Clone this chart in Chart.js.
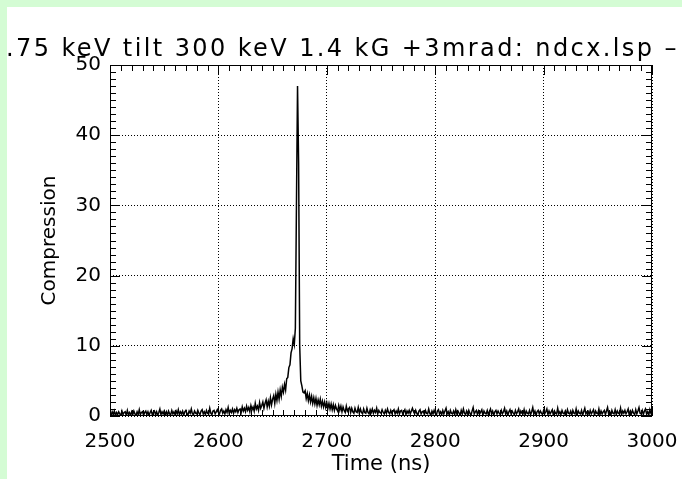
<!DOCTYPE html>
<html>
<head>
<meta charset="utf-8">
<script src="https://cdn.jsdelivr.net/npm/chart.js@4/dist/chart.umd.min.js"></script>
<style>
  html, body { margin: 0; padding: 0; background: #d4fcd4; overflow: hidden; }
  #page { position: absolute; left: 7px; top: 7px; width: 675px; height: 472px; background: #fff; }
  canvas { display: block; }
</style>
</head>
<body>
<div id="page"><canvas id="plot" width="675" height="472"></canvas></div>
<script>
// run label and axis text
const titleText = ".75 keV tilt 300 keV 1.4 kG +3mrad: ndcx.lsp \u2013";
const xTitle = "Time (ns)";
const yTitle = "Compression";

// sampling of the trace: one point per ns starting at 2500 ns
const timeStart = 2500;
const timeStep = 1;

// compression vs time, 2500..3000 ns
const compression = [
  0.5,0.1,0.6,0.2,0.7,0.1,0.5,0.2,0.6,0.3,0.1,0.7,0.2,0.5,0.6,0.1,0.8,0.2,0.5,0.1,
  0.6,0.2,0.7,0.3,0.1,0.6,0.2,0.9,0.2,0.5,0.6,0.1,0.5,0.7,0.2,0.6,0.1,0.5,0.8,0.2,
  0.5,0.7,0.2,0.6,0.1,0.5,1.0,0.2,0.6,0.3,0.7,0.2,0.6,0.1,0.7,0.3,0.2,0.8,0.3,0.6,
  0.2,0.7,0.3,0.9,0.2,0.6,0.3,0.7,0.1,0.6,0.8,0.3,0.2,0.7,0.4,1.0,0.3,0.2,0.7,0.4,
  0.3,0.8,0.4,0.2,0.7,0.9,0.3,0.6,0.2,0.8,0.4,0.3,1.1,0.4,0.2,0.7,0.8,0.3,0.6,0.9,
  0.5,0.3,0.8,1.0,0.4,0.7,0.3,0.9,0.5,1.2,0.4,0.8,0.5,1.0,0.4,0.9,0.6,1.1,0.5,0.9,
  1.0,0.5,1.3,0.7,1.1,0.6,1.4,0.8,1.2,0.6,1.5,0.9,1.3,0.7,1.8,1.0,1.4,0.8,1.9,1.1,
  1.5,2.0,1.1,1.8,2.3,1.3,2.1,1.4,2.6,1.6,2.4,2.9,1.8,3.1,2.2,3.4,2.4,3.7,2.8,4.1,
  3.4,4.5,3.7,5.3,5.5,6.9,7.3,9.0,9.6,11.0,10.2,12.5,30.0,47.0,36.0,10.0,5.0,4.3,3.4,3.3,
  3.6,2.5,3.2,2.2,3.0,2.0,2.8,1.8,2.6,1.7,2.5,1.5,2.3,1.6,2.4,1.4,2.1,1.3,2.0,1.2,
  1.9,1.1,1.8,1.0,1.7,0.9,1.6,0.8,1.5,1.0,0.7,1.5,0.8,1.4,0.6,1.3,0.8,0.5,1.4,0.7,
  1.0,1.2,0.5,1.1,0.6,0.4,1.1,0.6,0.5,1.2,0.4,1.0,0.5,0.3,1.0,0.5,0.4,1.1,0.5,0.3,
  0.9,0.5,1.0,0.4,0.8,0.5,1.1,0.3,0.8,0.5,0.4,0.9,0.5,0.3,0.8,0.4,1.0,0.5,0.3,0.8,
  0.4,0.7,0.9,0.3,0.7,0.4,1.0,0.3,0.7,0.8,0.3,0.6,0.9,0.2,0.7,0.4,0.8,0.3,0.7,1.1,
  0.6,0.3,0.8,0.4,0.1,0.7,0.9,0.3,0.6,0.7,0.2,0.8,0.4,0.3,1.0,0.4,0.1,0.7,0.3,0.8,
  0.4,0.1,0.7,0.9,0.3,0.6,0.2,0.8,0.3,0.7,1.1,0.3,0.6,0.1,0.8,0.4,0.3,0.7,0.2,0.9,
  0.3,0.7,0.4,0.1,0.8,0.3,1.0,0.4,0.2,0.7,0.3,0.8,0.4,0.1,0.7,1.2,0.3,0.6,0.8,0.2,
  0.7,0.3,0.6,0.9,0.1,0.7,0.4,0.3,0.8,0.2,0.6,1.0,0.3,0.7,0.1,0.6,0.8,0.3,0.7,0.4,
  0.2,0.8,0.3,0.6,1.1,0.3,0.7,0.1,0.6,0.9,0.3,0.7,0.4,0.2,0.8,0.3,0.6,1.0,0.2,0.7,
  0.4,0.3,0.9,0.1,0.7,0.4,0.3,0.8,0.2,0.6,1.2,0.3,0.7,0.1,0.6,0.8,0.3,0.7,0.4,0.2,
  0.8,0.3,0.6,1.0,0.2,0.7,0.3,0.6,0.9,0.1,0.7,0.4,0.3,1.1,0.3,0.6,0.2,0.8,0.4,0.3,
  0.7,0.2,0.9,0.4,0.3,0.7,0.1,0.8,0.4,0.3,1.0,0.2,0.7,0.4,0.3,0.8,0.1,0.6,1.1,0.3,
  0.6,0.7,0.2,0.8,0.3,0.6,0.9,0.1,0.7,0.4,0.3,1.0,0.2,0.7,0.3,0.6,0.8,0.2,0.7,1.2,
  0.3,0.6,0.1,0.8,0.4,0.3,0.9,0.2,0.7,0.4,0.3,1.1,0.2,0.7,0.4,0.8,0.3,0.6,1.0,0.1,
  0.7,0.3,0.8,0.4,0.2,0.9,0.3,0.7,1.2,0.4,0.3,0.8,0.2,0.7,1.0,0.3,0.6,0.1,0.9,0.4,
  0.6
];

// axis ranges and tick spacing
const xRange = [2500, 3000];
const yRange = [0, 50];
const xMajor = 100, xMinor = 10;
const yMajor = 10, yMinor = 1;

const FONT = "'DejaVu Sans', sans-serif";

const points = compression.map((v, i) => ({ x: timeStart + i * timeStep, y: v }));

// IDL style box: frame plus inward minor ticks on all four sides
const boxPlugin = {
  id: "box",
  afterDatasetsDraw(chart) {
    const { ctx, chartArea: a, scales: { x, y } } = chart;
    ctx.save();
    ctx.strokeStyle = "#000";
    ctx.lineWidth = 1;
    ctx.strokeRect(a.left + 0.5, a.top + 0.5, a.right - a.left - 1, a.bottom - a.top - 1);
    ctx.beginPath();
    for (let t = xRange[0]; t <= xRange[1]; t += xMinor) {
      const px = Math.round(x.getPixelForValue(t)) + 0.5;
      const len = (t - xRange[0]) % xMajor === 0 ? 10 : 6;
      ctx.moveTo(px, a.bottom); ctx.lineTo(px, a.bottom - len);
      ctx.moveTo(px, a.top); ctx.lineTo(px, a.top + len);
    }
    for (let v = yRange[0]; v <= yRange[1]; v += yMinor) {
      const py = Math.round(y.getPixelForValue(v)) + 0.5;
      const len = v % yMajor === 0 ? 10 : 6;
      ctx.moveTo(a.left, py); ctx.lineTo(a.left + len, py);
      ctx.moveTo(a.right, py); ctx.lineTo(a.right - len, py);
    }
    ctx.stroke();
    ctx.restore();
  },
  afterDraw(chart) {
    const { ctx } = chart;
    ctx.save();
    ctx.fillStyle = "#000";
    ctx.font = "24px " + FONT;
    ctx.letterSpacing = "2.4px";
    ctx.textAlign = "left";
    ctx.textBaseline = "alphabetic";
    ctx.fillText(titleText, -1, 49);
    ctx.restore();
  }
};

new Chart(document.getElementById("plot"), {
  type: "line",
  data: {
    datasets: [{
      data: points,
      borderColor: "#000",
      borderWidth: 1.5,
      pointRadius: 0,
      tension: 0,
      fill: false
    }]
  },
  plugins: [boxPlugin],
  options: {
    responsive: false,
    animation: false,
    parsing: false,
    events: [],
    layout: { padding: { top: 58, right: 30, left: 0, bottom: 0 } },
    plugins: { legend: { display: false }, tooltip: { enabled: false }, title: { display: false } },
    scales: {
      x: {
        type: "linear",
        min: xRange[0], max: xRange[1],
        afterFit(scale) { scale.height = 63; scale.paddingLeft = 0; scale.paddingRight = 0; },
        ticks: {
          stepSize: xMajor, autoSkip: false, maxRotation: 0, padding: 14,
          color: "#000", font: { family: FONT, size: 20, lineHeight: 1.2 },
          callback: v => String(v)
        },
        grid: { color: "#000", lineWidth: 1, drawTicks: false },
        border: { display: false, dash: [1, 2] },
        title: {
          display: true, text: xTitle, color: "#000",
          font: { family: FONT, size: 21, lineHeight: 1.2 },
          padding: { top: 0, bottom: 2 }
        }
      },
      y: {
        min: yRange[0], max: yRange[1],
        afterFit(scale) { scale.width = 103; scale.paddingTop = 0; scale.paddingBottom = 0; },
        ticks: {
          stepSize: yMajor, padding: 9,
          color: "#000", font: { family: FONT, size: 20, lineHeight: 1.2 },
          callback: v => String(v)
        },
        grid: { color: "#000", lineWidth: 1, drawTicks: false },
        border: { display: false, dash: [1, 2] },
        title: {
          display: true, text: yTitle, color: "#000",
          font: { family: FONT, size: 20, lineHeight: 1.2 },
          padding: { top: 31, bottom: 0 }
        }
      }
    }
  }
});
</script>
</body>
</html>
